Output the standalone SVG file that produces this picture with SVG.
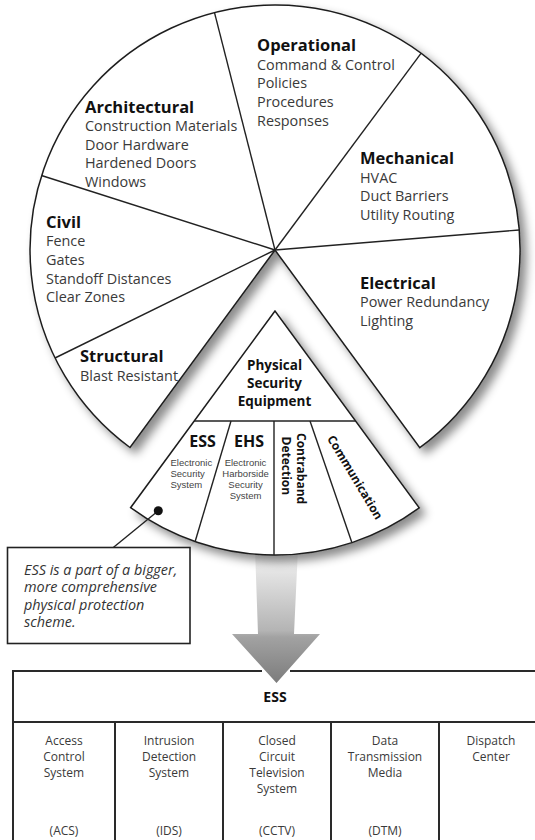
<svg xmlns="http://www.w3.org/2000/svg" width="535" height="840" viewBox="0 0 535 840">
  <defs>
    <style>
      text { font-family: "Open Sans", "Liberation Sans", sans-serif; }
      .title { font-weight: 700; font-size: 16.5px; fill: #111; }
      .item { font-size: 14.4px; fill: #3a3a3a; }
      .face { fill: #fff; stroke: #1e1e1e; stroke-width: 1.5; stroke-linejoin: miter; }
      .divider { fill: none; stroke: #222; stroke-width: 1.4; }
      .eq { font-weight: 700; font-size: 13.5px; fill: #111; text-anchor: middle; }
      .sys { font-weight: 700; font-size: 16px; fill: #111; text-anchor: middle; }
      text.small { font-family: "Liberation Sans", Arial, sans-serif; font-size: 9.5px; fill: #444; }
      .vert { font-weight: 700; font-size: 12px; fill: #111; }
      .note { font-style: italic; font-size: 14.4px; fill: #333; }
      .grid { stroke: #2a2a2a; stroke-width: 2; fill: none; }
      .cell { font-size: 12px; fill: #3a3a3a; text-anchor: middle; }
      .head { font-weight: 700; font-size: 14px; fill: #111; text-anchor: middle; }
    </style>
    <filter id="shadow" x="-15%" y="-15%" width="135%" height="135%">
      <feDropShadow dx="6" dy="6" stdDeviation="5" flood-color="#000" flood-opacity="0.45"/>
    </filter>
    <linearGradient id="arrowFill" gradientUnits="userSpaceOnUse" x1="0" y1="552" x2="0" y2="683">
      <stop offset="0" stop-color="#f4f4f4"/>
      <stop offset="0.6" stop-color="#b4b4b4"/>
      <stop offset="0.65" stop-color="#a2a2a2"/>
      <stop offset="1" stop-color="#7c7c7c"/>
    </linearGradient>
  </defs>

  <!-- big arrow from the equipment wedge down to the ESS table -->
  <g id="arrow">
    <path d="M255,548 L298,548 L294,634 L320,634 L276.5,683 L232,634 L258,634 Z" fill="url(#arrowFill)"/>
  </g>

  <!-- pie of protection disciplines, with the bottom sector cut away -->
  <g id="pie">
    <path class="face" filter="url(#shadow)" d="M275,250 L130,447.5 A245,245 0 1 1 419.8,447.7 Z"/>
    <g class="divider">
      <line x1="275" y1="250" x2="214.5" y2="12.6"/>
      <line x1="275" y1="250" x2="421" y2="53.3"/>
      <line x1="275" y1="250" x2="519.2" y2="230"/>
      <line x1="275" y1="250" x2="41.5" y2="175.5"/>
      <line x1="275" y1="250" x2="55" y2="358"/>
    </g>
  </g>

  <g id="slice-operational">
    <text class="title" x="257" y="51">Operational</text>
    <text class="item" x="257" y="69.5">Command &amp; Control</text>
    <text class="item" x="257" y="88.2">Policies</text>
    <text class="item" x="257" y="106.9">Procedures</text>
    <text class="item" x="257" y="125.6">Responses</text>
  </g>

  <g id="slice-architectural">
    <text class="title" x="85" y="112.5">Architectural</text>
    <text class="item" x="85" y="131">Construction Materials</text>
    <text class="item" x="85" y="149.7">Door Hardware</text>
    <text class="item" x="85" y="168.4">Hardened Doors</text>
    <text class="item" x="85" y="187.1">Windows</text>
  </g>

  <g id="slice-mechanical">
    <text class="title" x="360" y="164">Mechanical</text>
    <text class="item" x="360" y="182.7">HVAC</text>
    <text class="item" x="360" y="201.4">Duct Barriers</text>
    <text class="item" x="360" y="220.1">Utility Routing</text>
  </g>

  <g id="slice-civil">
    <text class="title" x="46" y="227.5">Civil</text>
    <text class="item" x="46" y="246.2">Fence</text>
    <text class="item" x="46" y="264.9">Gates</text>
    <text class="item" x="46" y="283.6">Standoff Distances</text>
    <text class="item" x="46" y="302.3">Clear Zones</text>
  </g>

  <g id="slice-electrical">
    <text class="title" x="360" y="288.5">Electrical</text>
    <text class="item" x="360" y="307.2">Power Redundancy</text>
    <text class="item" x="360" y="325.9">Lighting</text>
  </g>

  <g id="slice-structural">
    <text class="title" x="80" y="362">Structural</text>
    <text class="item" x="80" y="380.5">Blast Resistant</text>
  </g>

  <!-- physical security equipment wedge -->
  <g id="equipment">
    <path class="face" filter="url(#shadow)" d="M275,311 L130.6,507.7 A244,244 0 0 0 419.2,507.9 Z"/>
    <g class="divider">
      <line x1="194.2" y1="421" x2="355.8" y2="421"/>
      <line x1="231" y1="421" x2="195.3" y2="541"/>
      <line x1="274" y1="421" x2="274" y2="555"/>
      <line x1="310" y1="421" x2="351.7" y2="542"/>
    </g>
    <text class="eq" x="274.5" y="370">Physical</text>
    <text class="eq" x="274.5" y="388">Security</text>
    <text class="eq" x="274.5" y="406">Equipment</text>
  </g>

  <g id="ess">
    <text class="sys" x="202.5" y="447.3">ESS</text>
    <text class="small" x="170.5" y="465.5">Electronic</text>
    <text class="small" x="170.5" y="476.5">Security</text>
    <text class="small" x="170.5" y="487.5">System</text>
  </g>

  <g id="ehs">
    <text class="sys" x="249" y="447.3">EHS</text>
    <text class="small" x="245.5" y="465.5" text-anchor="middle">Electronic</text>
    <text class="small" x="245.5" y="476.5" text-anchor="middle">Harborside</text>
    <text class="small" x="245.5" y="487.5" text-anchor="middle">Security</text>
    <text class="small" x="245.5" y="498.5" text-anchor="middle">System</text>
  </g>

  <g id="contraband">
    <text class="vert" transform="translate(297,433) rotate(90)">Contraband</text>
    <text class="vert" transform="translate(282,436.5) rotate(90)">Detection</text>
  </g>

  <g id="communication">
    <text class="vert" text-anchor="middle" transform="translate(351.5,479.5) rotate(59)">Communication</text>
  </g>

  <!-- callout note -->
  <g id="note">
    <rect x="7.5" y="547.5" width="182.5" height="96" fill="#fff" stroke="#222" stroke-width="1.6"/>
    <text class="note" x="24" y="574.5">ESS is a part of a bigger,</text>
    <text class="note" x="24" y="592">more comprehensive</text>
    <text class="note" x="24" y="609.5">physical protection</text>
    <text class="note" x="24" y="627">scheme.</text>
  </g>

  <g id="connectors">
    <line x1="158.3" y1="510.7" x2="113.3" y2="547.5" stroke="#222" stroke-width="1.4"/>
    <circle cx="158.3" cy="510.7" r="4.5" fill="#111"/>
  </g>

  <!-- ESS component table -->
  <g id="table">
    <g class="grid">
      <line x1="12" y1="671" x2="262" y2="671"/>
      <line x1="290" y1="671" x2="540" y2="671"/>
      <line x1="13" y1="670" x2="13" y2="842"/>
      <line x1="12" y1="722" x2="540" y2="722"/>
      <line x1="115" y1="722" x2="115" y2="842"/>
      <line x1="223" y1="722" x2="223" y2="842"/>
      <line x1="331" y1="722" x2="331" y2="842"/>
      <line x1="439" y1="722" x2="439" y2="842"/>
    </g>
    <text class="head" x="275" y="702">ESS</text>
  </g>

  <g id="acs">
    <text class="cell" x="64" y="745">Access</text>
    <text class="cell" x="64" y="761">Control</text>
    <text class="cell" x="64" y="777">System</text>
    <text class="cell" x="64" y="834.5">(ACS)</text>
  </g>
  <g id="ids">
    <text class="cell" x="169" y="745">Intrusion</text>
    <text class="cell" x="169" y="761">Detection</text>
    <text class="cell" x="169" y="777">System</text>
    <text class="cell" x="169" y="834.5">(IDS)</text>
  </g>
  <g id="cctv">
    <text class="cell" x="277" y="745">Closed</text>
    <text class="cell" x="277" y="761">Circuit</text>
    <text class="cell" x="277" y="777">Television</text>
    <text class="cell" x="277" y="793">System</text>
    <text class="cell" x="277" y="834.5">(CCTV)</text>
  </g>
  <g id="dtm">
    <text class="cell" x="385" y="745">Data</text>
    <text class="cell" x="385" y="761">Transmission</text>
    <text class="cell" x="385" y="777">Media</text>
    <text class="cell" x="385" y="834.5">(DTM)</text>
  </g>
  <g id="dispatch">
    <text class="cell" x="491" y="745">Dispatch</text>
    <text class="cell" x="491" y="761">Center</text>
  </g>
</svg>
